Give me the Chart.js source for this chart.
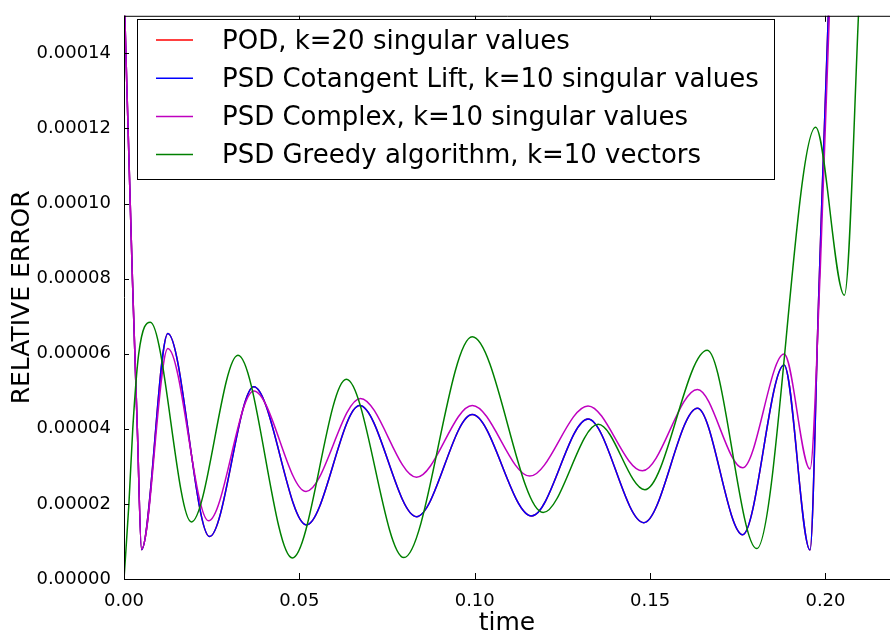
<!DOCTYPE html>
<html>
<head>
<meta charset="utf-8">
<script src="https://cdn.jsdelivr.net/npm/chart.js@4.4.1/dist/chart.umd.min.js"></script>
<style>
  html, body { margin: 0; padding: 0; background: #fff; }
  #wrap { width: 890px; height: 640px; }
</style>
</head>
<body>
<div id="wrap"><canvas id="c" width="890" height="640"></canvas></div>
<script>
// ─── Data (errors in units of 1e-5) ──────────────────────────────────────────
const labels = [
  'POD, k=20 singular values',
  'PSD Cotangent Lift, k=10 singular values',
  'PSD Complex, k=10 singular values',
  'PSD Greedy algorithm, k=10 vectors',
];

// POD curve sits right under the cotangent-lift curve
const podTime = [0, 0.0024, 0.0038, 0.005, 0.0125, 0.0244, 0.037, 0.052, 0.0672, 0.0834, 0.0993, 0.1162, 0.1323, 0.1482, 0.1635, 0.1764, 0.1882, 0.1956, 0.1981, 0.2008, 0.203];
const podErr  = [15.8, 8.0, 4.0, 0.78, 6.54, 1.13, 5.12, 1.44, 4.62, 1.66, 4.38, 1.68, 4.26, 1.50, 4.55, 1.18, 5.70, 0.77, 7.6, 15.0, 19.0];

const cotTime = [0, 0.0024, 0.0038, 0.005, 0.0125, 0.0244, 0.037, 0.052, 0.0672, 0.0834, 0.0993, 0.1162, 0.1323, 0.1482, 0.1635, 0.1764, 0.1882, 0.1956, 0.1981, 0.2008, 0.203];
const cotErr  = [15.8, 8.0, 4.0, 0.78, 6.54, 1.13, 5.12, 1.44, 4.62, 1.66, 4.38, 1.68, 4.26, 1.50, 4.55, 1.18, 5.70, 0.77, 7.6, 15.0, 19.0];

const cpxTime = [0, 0.0024, 0.0038, 0.005, 0.0125, 0.0241, 0.037, 0.0519, 0.0674, 0.0834, 0.0993, 0.1157, 0.1323, 0.1478, 0.1635, 0.1764, 0.1882, 0.1956, 0.1985, 0.2011, 0.2033];
const cpxErr  = [15.8, 8.0, 4.0, 0.80, 6.14, 1.55, 5.01, 2.33, 4.81, 2.71, 4.62, 2.74, 4.61, 2.88, 5.05, 2.96, 5.99, 2.93, 8.2, 15.0, 19.0];

const grdTime = [0, 0.0014, 0.0025, 0.0042, 0.0075, 0.0192, 0.0325, 0.048, 0.0634, 0.0798, 0.0993, 0.1195, 0.1352, 0.1485, 0.1663, 0.1804, 0.1972, 0.2054, 0.2094, 0.211];
const grdErr  = [0, 2.0, 4.0, 6.0, 6.84, 1.52, 5.96, 0.56, 5.32, 0.57, 6.45, 1.77, 4.12, 2.38, 6.09, 0.81, 12.03, 7.56, 15.0, 19.0];

const xTicks = [0, 0.05, 0.10, 0.15, 0.20];
const yTicks = [0, 2, 4, 6, 8, 10, 12, 14];

const colors = ['#ff0000', '#0000ff', '#bf00bf', '#008000'];
const FONT = '"DejaVu Sans", "Liberation Sans", sans-serif';

const toPoints = (ts, vs) => ts.map((t, i) => ({ x: t, y: vs[i] * 1e-5 }));

// ─── Frame + inward ticks (matplotlib look) ──────────────────────────────────
const framePlugin = {
  id: 'frame',
  afterDatasetsDraw(chart) {
    const { ctx, chartArea: a, scales: { x, y } } = chart;
    ctx.save();
    ctx.strokeStyle = '#000';
    ctx.lineWidth = 1;
    ctx.beginPath();
    ctx.moveTo(a.left + 0.5, a.top + 0.5);
    ctx.lineTo(a.right, a.top + 0.5);
    ctx.moveTo(a.left + 0.5, a.top);
    ctx.lineTo(a.left + 0.5, a.bottom + 0.5);
    ctx.moveTo(a.left, a.bottom + 0.5);
    ctx.lineTo(a.right, a.bottom + 0.5);
    yTicks.forEach(v => {
      const py = Math.round(y.getPixelForValue(v * 1e-5)) + 0.5;
      ctx.moveTo(a.left, py);
      ctx.lineTo(a.left + 5, py);
    });
    xTicks.forEach(v => {
      const px = Math.round(x.getPixelForValue(v)) + 0.5;
      ctx.moveTo(px, a.bottom);
      ctx.lineTo(px, a.bottom - 6);
      ctx.moveTo(px, a.top);
      ctx.lineTo(px, a.top + 6);
    });
    ctx.stroke();
    ctx.restore();
  },
  afterDraw(chart) {
    // legend box, upper left
    const { ctx } = chart;
    ctx.save();
    ctx.fillStyle = '#fff';
    ctx.fillRect(137.5, 19.5, 637, 160);
    ctx.strokeStyle = '#000';
    ctx.lineWidth = 1;
    ctx.strokeRect(137.5, 19.5, 637, 160);
    ctx.font = `26px ${FONT}`;
    ctx.textBaseline = 'middle';
    chart.data.datasets.forEach((ds, i) => {
      const ry = 40 + i * 38.2;
      ctx.strokeStyle = ds.borderColor;
      ctx.lineWidth = 1.5;
      ctx.beginPath();
      ctx.moveTo(156, ry);
      ctx.lineTo(193, ry);
      ctx.stroke();
      ctx.fillStyle = '#000';
      ctx.fillText(ds.label, 222, ry + 2);
    });
    ctx.restore();
  },
};

// ─── Chart ───────────────────────────────────────────────────────────────────
const series = [
  [podTime, podErr],
  [cotTime, cotErr],
  [cpxTime, cpxErr],
  [grdTime, grdErr],
];

new Chart(document.getElementById('c'), {
  type: 'line',
  data: {
    datasets: series.map(([ts, vs], i) => ({
      label: labels[i],
      data: toPoints(ts, vs),
      borderColor: colors[i],
      borderWidth: 1.5,
      pointRadius: 0,
      fill: false,
      cubicInterpolationMode: 'monotone',
      order: 4 - i,
    })),
  },
  options: {
    responsive: false,
    animation: false,
    layout: { padding: { top: 5, right: 0, left: 0, bottom: 0 } },
    plugins: { legend: { display: false }, tooltip: { enabled: false } },
    scales: {
      x: {
        type: 'linear',
        min: 0,
        max: 0.2184,
        afterFit: s => { s.height = 61; },
        afterBuildTicks: s => { s.ticks = xTicks.map(v => ({ value: v })); },
        ticks: {
          color: '#000',
          font: { family: FONT, size: 18 },
          padding: 4,
          maxRotation: 0,
          callback: v => v.toFixed(2),
        },
        grid: { display: false },
        border: { display: false },
        title: {
          display: true,
          text: 'time',
          color: '#000',
          font: { family: FONT, size: 25 },
          padding: { top: 0, bottom: 2 },
        },
      },
      y: {
        min: 0,
        max: 15e-5,
        afterFit: s => { s.width = 124; },
        afterBuildTicks: s => { s.ticks = yTicks.map(v => ({ value: v * 1e-5 })); },
        ticks: {
          color: '#000',
          font: { family: FONT, size: 18 },
          padding: 5,
          callback: v => v.toFixed(5),
        },
        grid: { display: false },
        border: { display: false },
        title: {
          display: true,
          text: 'RELATIVE ERROR',
          color: '#000',
          font: { family: FONT, size: 25 },
          padding: { top: 7, bottom: 0 },
        },
      },
    },
  },
  plugins: [framePlugin],
});
</script>
</body>
</html>
